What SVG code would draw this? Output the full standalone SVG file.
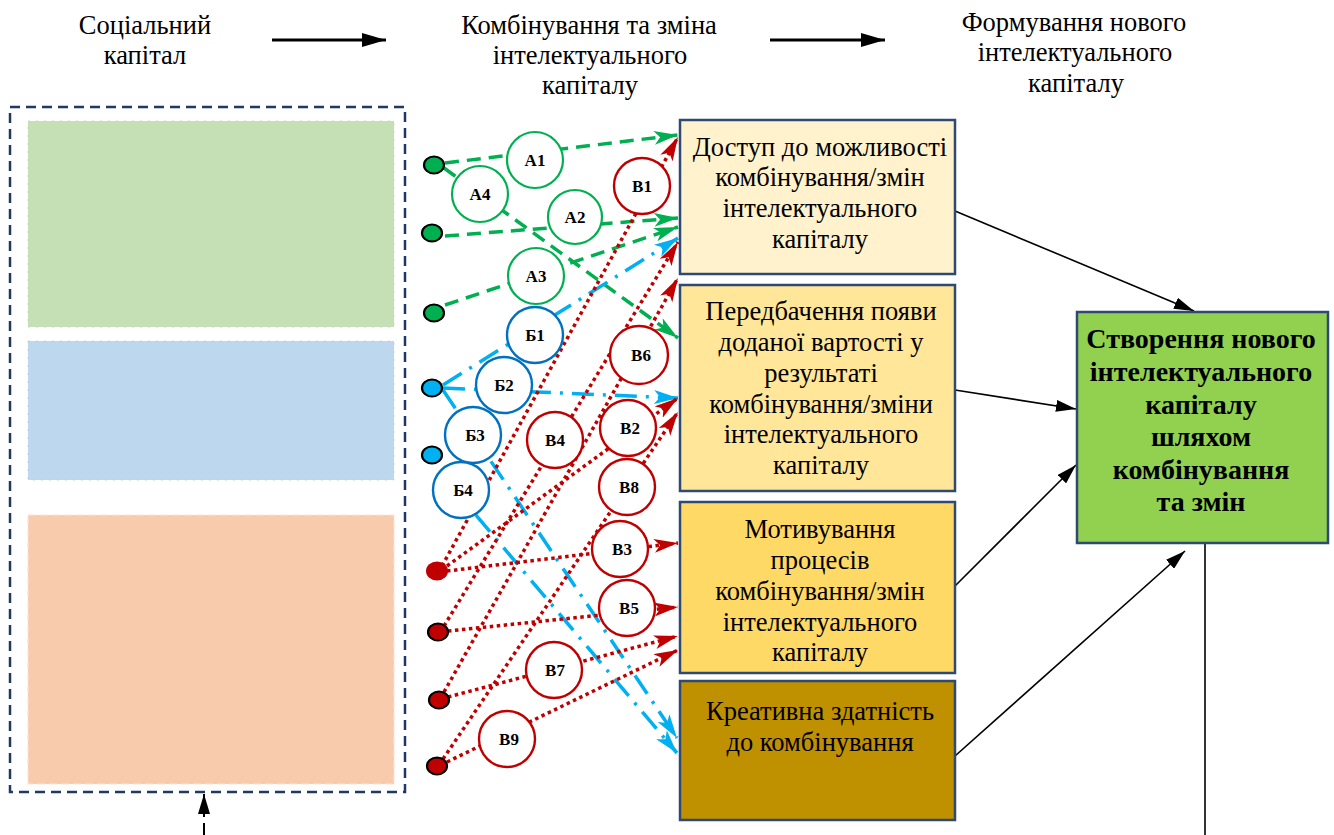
<svg xmlns="http://www.w3.org/2000/svg" width="1334" height="835" viewBox="0 0 1334 835">
<defs>
<style>
.t{font-family:"Liberation Serif","Times New Roman",serif;font-size:26.5px;fill:#000;text-anchor:middle}
.tb{font-family:"Liberation Serif","Times New Roman",serif;font-size:28px;font-weight:bold;fill:#000;text-anchor:middle}
.cl{font-family:"Liberation Serif","Times New Roman",serif;font-size:17px;font-weight:bold;fill:#000;text-anchor:middle}
.box{stroke:#2E4A72;stroke-width:2.5}
.cg{fill:#fff;stroke:#00B050;stroke-width:2.2}
.cb{fill:#fff;stroke:#0070C0;stroke-width:2.4}
.cr{fill:#fff;stroke:#C00000;stroke-width:2.4}
.lg{fill:none;stroke:#00B050;stroke-width:3.5;stroke-dasharray:14 8}
.lb{fill:none;stroke:#00B0F0;stroke-width:3.5;stroke-dasharray:22 9 3 9}
.lr{fill:none;stroke:#C00000;stroke-width:3.5;stroke-dasharray:3.5 3.5}
.lk{fill:none;stroke:#000;stroke-width:1.6}
</style>
<marker id="mk" markerUnits="userSpaceOnUse" markerWidth="20" markerHeight="12" refX="20" refY="6" orient="auto"><path d="M0,0 L20,6 L0,12 z" fill="#000"/></marker>
<marker id="mh" markerUnits="userSpaceOnUse" markerWidth="24" markerHeight="14" refX="24" refY="7" orient="auto"><path d="M0,0 L24,7 L0,14 z" fill="#000"/></marker>
<marker id="mg" markerUnits="userSpaceOnUse" markerWidth="24" markerHeight="14" refX="24" refY="7" orient="auto"><path d="M0,0 L24,7 L0,14 L6,7 z" fill="#00B050"/></marker>
<marker id="mb" markerUnits="userSpaceOnUse" markerWidth="24" markerHeight="14" refX="24" refY="7" orient="auto"><path d="M0,0 L24,7 L0,14 L6,7 z" fill="#00B0F0"/></marker>
<marker id="mr" markerUnits="userSpaceOnUse" markerWidth="24" markerHeight="14" refX="24" refY="7" orient="auto"><path d="M0,0 L24,7 L0,14 L6,7 z" fill="#C00000"/></marker>
</defs>
<rect width="1334" height="835" fill="#fff"/>

<g id="headers">
<text class="t" x="145" y="34">Соціальний</text>
<text class="t" x="145" y="64">капітал</text>
<text class="t" x="589" y="34">Комбінування та зміна</text>
<text class="t" x="590" y="64">інтелектуального</text>
<text class="t" x="590" y="94">капіталу</text>
<text class="t" x="1074" y="31">Формування нового</text>
<text class="t" x="1075" y="61">інтелектуального</text>
<text class="t" x="1076" y="92">капіталу</text>
<line x1="272" y1="40" x2="386" y2="40" stroke="#000" stroke-width="3" marker-end="url(#mh)"/>
<line x1="770" y1="40" x2="885" y2="40" stroke="#000" stroke-width="3" marker-end="url(#mh)"/>
</g>

<g id="social-capital">
<rect x="10" y="107" width="395" height="685" fill="none" stroke="#1F3864" stroke-width="2.5" stroke-dasharray="10 6"/>
<rect x="28" y="121" width="366" height="206" fill="#C5E0B4" stroke="#c9cfc6" stroke-width="0.8" stroke-dasharray="2 6"/>
<rect x="28" y="341" width="366" height="139" fill="#BDD7EE" stroke="#c3cbd3" stroke-width="0.8" stroke-dasharray="2 6"/>
<rect x="28" y="515" width="366" height="269" fill="#F8CBAD" stroke="#FBE3D3" stroke-width="1.2" stroke-dasharray="8 4"/>
</g>

<g id="connectors">
<!-- green -->
<line class="lg" x1="445" y1="163" x2="678" y2="135" marker-end="url(#mg)"/>
<line class="lg" x1="444" y1="168" x2="678" y2="338" marker-end="url(#mg)"/>
<line class="lg" x1="445" y1="236" x2="678" y2="218" marker-end="url(#mg)"/>
<line class="lg" x1="445" y1="305" x2="678" y2="227" marker-end="url(#mg)"/>
<!-- blue -->
<line class="lb" x1="443" y1="385" x2="678" y2="238" marker-end="url(#mb)"/>
<line class="lb" x1="443" y1="388" x2="678" y2="398" marker-end="url(#mb)"/>
<line class="lb" x1="443" y1="390" x2="677" y2="738" marker-end="url(#mb)"/>
<line class="lb" x1="448" y1="482" x2="677" y2="753" marker-end="url(#mb)"/>
<!-- red -->
<line class="lr" x1="442" y1="566" x2="678" y2="137" marker-end="url(#mr)"/>
<line class="lr" x1="447" y1="566" x2="678" y2="398" marker-end="url(#mr)"/>
<line class="lr" x1="447" y1="571" x2="678" y2="543" marker-end="url(#mr)"/>
<line class="lr" x1="444" y1="626" x2="678" y2="242" marker-end="url(#mr)"/>
<line class="lr" x1="448" y1="631" x2="678" y2="607" marker-end="url(#mr)"/>
<line class="lr" x1="444" y1="692" x2="678" y2="278" marker-end="url(#mr)"/>
<line class="lr" x1="448" y1="697" x2="678" y2="636" marker-end="url(#mr)"/>
<line class="lr" x1="443" y1="759" x2="678" y2="412" marker-end="url(#mr)"/>
<line class="lr" x1="447" y1="762" x2="678" y2="650" marker-end="url(#mr)"/>
<!-- black -->
<line class="lk" x1="955" y1="211" x2="1194" y2="311" marker-end="url(#mk)"/>
<line class="lk" x1="955" y1="390" x2="1076" y2="409" marker-end="url(#mk)"/>
<line class="lk" x1="955" y1="586" x2="1076" y2="465" marker-end="url(#mk)"/>
<line class="lk" x1="955" y1="756" x2="1185" y2="551" marker-end="url(#mk)"/>
<line class="lk" x1="1205" y1="543" x2="1205" y2="835"/>
<line x1="204" y1="835" x2="204" y2="794" stroke="#000" stroke-width="2" stroke-dasharray="12 6" marker-end="url(#mk)"/>
</g>

<g id="dots">
<ellipse cx="434" cy="165" rx="10" ry="8.5" fill="#00B050" stroke="#000" stroke-width="2.2"/>
<ellipse cx="432" cy="233" rx="10" ry="8.5" fill="#00B050" stroke="#000" stroke-width="2.2"/>
<ellipse cx="434" cy="313" rx="10" ry="8.5" fill="#00B050" stroke="#000" stroke-width="2.2"/>
<ellipse cx="432" cy="388" rx="10" ry="8.5" fill="#00B0F0" stroke="#000" stroke-width="2.2"/>
<ellipse cx="432" cy="455" rx="10" ry="8.5" fill="#00B0F0" stroke="#000" stroke-width="2.2"/>
<ellipse cx="437" cy="571" rx="11" ry="9.5" fill="#C00000"/>
<ellipse cx="438" cy="632" rx="10" ry="8.5" fill="#C00000" stroke="#000" stroke-width="2.2"/>
<ellipse cx="439" cy="700" rx="10" ry="8.5" fill="#C00000" stroke="#000" stroke-width="2.2"/>
<ellipse cx="437" cy="766" rx="10" ry="8.5" fill="#C00000" stroke="#000" stroke-width="2.2"/>
</g>

<g id="circle-A1"><circle class="cg" cx="535" cy="160" r="28"/><text class="cl" x="535" y="166">А1</text></g>
<g id="circle-A4"><circle class="cg" cx="480" cy="194" r="28"/><text class="cl" x="480" y="200">А4</text></g>
<g id="circle-A2"><circle class="cg" cx="575" cy="217" r="27"/><text class="cl" x="575" y="223">А2</text></g>
<g id="circle-A3"><circle class="cg" cx="536" cy="276" r="28"/><text class="cl" x="536" y="282">А3</text></g>
<g id="circle-B1b"><circle class="cb" cx="535" cy="335" r="28"/><text class="cl" x="535" y="341">Б1</text></g>
<g id="circle-B2b"><circle class="cb" cx="504" cy="385" r="28"/><text class="cl" x="504" y="391">Б2</text></g>
<g id="circle-B3b"><circle class="cb" cx="473" cy="435" r="28"/><text class="cl" x="475" y="441">Б3</text></g>
<g id="circle-B4b"><circle class="cb" cx="461" cy="490" r="28"/><text class="cl" x="463" y="496">Б4</text></g>
<g id="circle-V1"><circle class="cr" cx="642" cy="186" r="28"/><text class="cl" x="642" y="192">В1</text></g>
<g id="circle-V6"><circle class="cr" cx="639" cy="355" r="29"/><text class="cl" x="641" y="361">В6</text></g>
<g id="circle-V4"><circle class="cr" cx="555" cy="440" r="28"/><text class="cl" x="555" y="446">В4</text></g>
<g id="circle-V2"><circle class="cr" cx="628" cy="428" r="28"/><text class="cl" x="630" y="434">В2</text></g>
<g id="circle-V8"><circle class="cr" cx="627" cy="487" r="28"/><text class="cl" x="629" y="493">В8</text></g>
<g id="circle-V3"><circle class="cr" cx="620" cy="549" r="28"/><text class="cl" x="622" y="555">В3</text></g>
<g id="circle-V5"><circle class="cr" cx="627" cy="608" r="28"/><text class="cl" x="629" y="614">В5</text></g>
<g id="circle-V7"><circle class="cr" cx="554" cy="670" r="28"/><text class="cl" x="555" y="676">В7</text></g>
<g id="circle-V9"><circle class="cr" cx="507" cy="739" r="28"/><text class="cl" x="509" y="745">В9</text></g>

<g id="box-access">
<rect class="box" x="680" y="120" width="275" height="154" fill="#FFF2CC"/>
<text class="t" x="820" y="156">Доступ до можливості</text>
<text class="t" x="820" y="186">комбінування/змін</text>
<text class="t" x="820" y="217">інтелектуального</text>
<text class="t" x="820" y="248">капіталу</text>
</g>
<g id="box-foresight">
<rect class="box" x="680" y="285" width="275" height="206" fill="#FFE699"/>
<text class="t" x="821" y="320">Передбачення появи</text>
<text class="t" x="821" y="351">доданої вартості у</text>
<text class="t" x="821" y="382">результаті</text>
<text class="t" x="821" y="413">комбінування/зміни</text>
<text class="t" x="821" y="443">інтелектуального</text>
<text class="t" x="821" y="474">капіталу</text>
</g>
<g id="box-motivation">
<rect class="box" x="680" y="502" width="275" height="171" fill="#FFD966"/>
<text class="t" x="820" y="538">Мотивування</text>
<text class="t" x="820" y="569">процесів</text>
<text class="t" x="820" y="600">комбінування/змін</text>
<text class="t" x="820" y="631">інтелектуального</text>
<text class="t" x="820" y="661">капіталу</text>
</g>
<g id="box-creative">
<rect class="box" x="680" y="681" width="275" height="139" fill="#BF9000"/>
<text class="t" x="820" y="720">Креативна здатність</text>
<text class="t" x="820" y="751">до комбінування</text>
</g>
<g id="box-result">
<rect class="box" x="1077" y="312" width="251" height="231" fill="#92D050"/>
<text class="tb" x="1201" y="348">Створення нового</text>
<text class="tb" x="1201" y="381">інтелектуального</text>
<text class="tb" x="1201" y="414">капіталу</text>
<text class="tb" x="1201" y="446">шляхом</text>
<text class="tb" x="1201" y="479">комбінування</text>
<text class="tb" x="1201" y="511">та змін</text>
</g>
</svg>
